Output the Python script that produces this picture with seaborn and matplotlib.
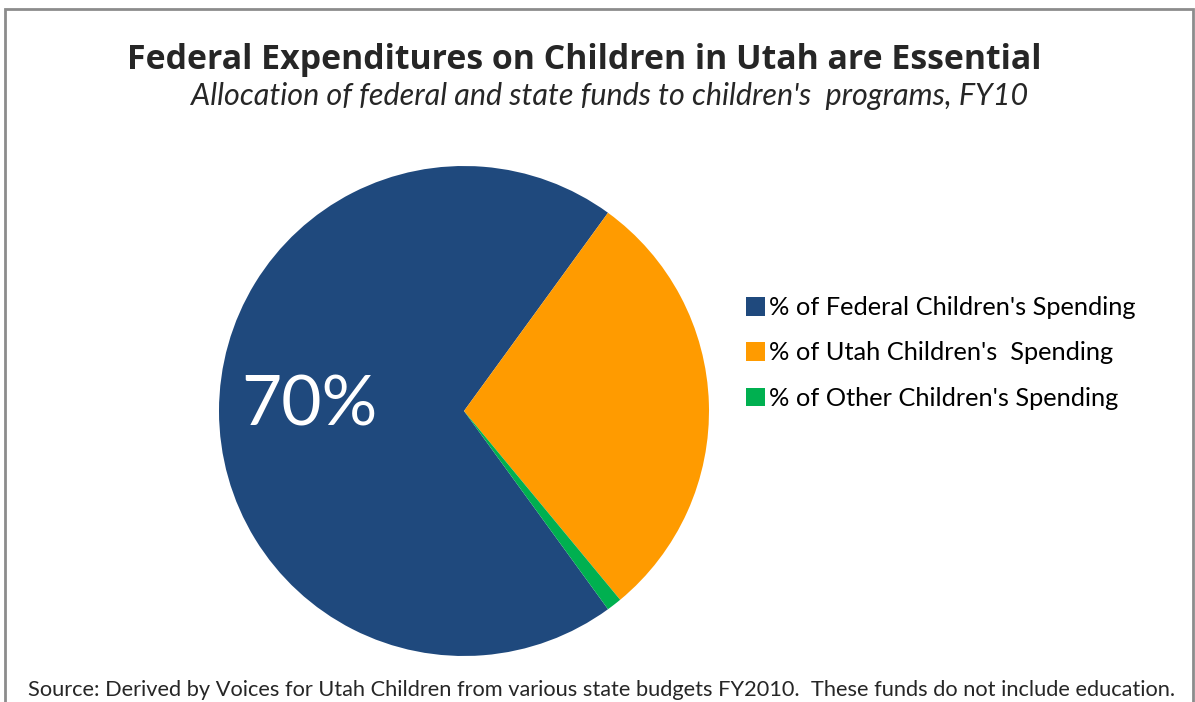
import matplotlib
matplotlib.use("Agg")
import matplotlib.pyplot as plt
import seaborn as sns
from matplotlib.patches import Rectangle, Patch

sns.set_theme(style="white")
plt.rcParams['font.family'] = ['Lato', 'DejaVu Sans']

categories = ["% of Federal Children's Spending",
              "% of Utah Children's  Spending",
              "% of Other Children's Spending"]
values = [70, 29, 1]
colors = ["#1F497D", "#FF9B00", "#00B050"]
label_text = "70%"

title = "Federal Expenditures on Children in Utah are Essential"
subtitle = "Allocation of federal and state funds to children's  programs, FY10"
source = "Source: Derived by Voices for Utah Children from various state budgets FY2010.  These funds do not include education."

W, H = 1195, 702
fig = plt.figure(figsize=(W / 100, H / 100), dpi=100)
fig.patch.set_facecolor("white")

# outer frame
fig.add_artist(Rectangle((5 / W, -0.05), (1193 - 5) / W, (H - 9) / H + 0.05,
                         transform=fig.transFigure, fill=False,
                         edgecolor="#8C8C8C", linewidth=2))

cx, cy, r = 464, 411, 245
ax = fig.add_axes([(cx - r) / W, (H - cy - r) / H, 2 * r / W, 2 * r / H])
wedges, _ = ax.pie(values, colors=colors, startangle=-54, counterclock=False,
                   radius=1, wedgeprops=dict(linewidth=0))
ax.set_xlim(-1, 1)
ax.set_ylim(-1, 1)
ax.set_aspect("equal")
ax.axis("off")

ax.text(-0.63, 0.02, label_text, color="white", fontsize=50,
        ha="center", va="center")

fig.text(584 / W, 1 - 60 / H, title, fontsize=24.4, fontweight="bold",
         family=["Open Sans", "DejaVu Sans"],
         color="#262626", ha="center", va="center")
fig.text(610 / W, 1 - 96 / H, subtitle, fontsize=22, style="italic",
         color="#262626", ha="center", va="center")
fig.text(602 / W, 1 - 690 / H, source, fontsize=15.7,
         color="#262626", ha="center", va="center")

handles = [Patch(facecolor=c, edgecolor="none") for c in colors]
leg = fig.legend(handles, categories, loc="center left",
                 bbox_to_anchor=(736 / W, 1 - 353 / H), frameon=False,
                 fontsize=18.3, handlelength=0.75, handleheight=0.75,
                 handletextpad=0.15, labelspacing=0.88, borderaxespad=0)
for t in leg.get_texts():
    t.set_color("#000000")

fig.savefig("out.png", dpi=100, facecolor="white")
